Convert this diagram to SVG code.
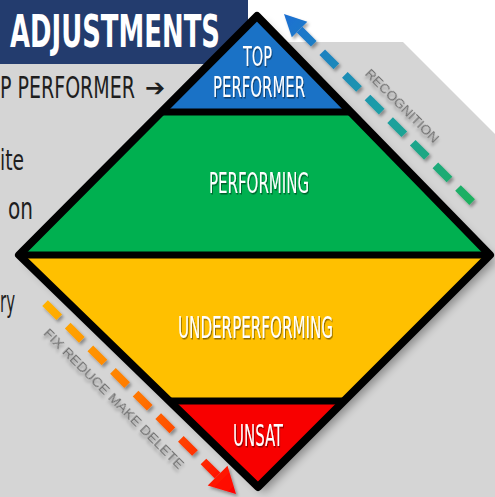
<svg xmlns="http://www.w3.org/2000/svg" width="495" height="497" viewBox="0 0 495 497">
  <defs>
    <style>
      .lbl { font-family: "DejaVu Sans Condensed", "DejaVu Sans", "Liberation Sans", sans-serif; fill: #ffffff; text-anchor: middle; }
      .side { font-family: "DejaVu Sans Condensed", "DejaVu Sans", "Liberation Sans", sans-serif; fill: #1e1e1e; }
      .diag { font-family: "Liberation Sans", "DejaVu Sans", sans-serif; font-size: 13px; fill: #707070; text-anchor: middle; }
      .edge { fill: none; stroke: #000; stroke-width: 8; stroke-linejoin: round; }
      .div { stroke: #000; stroke-width: 7; }
      .dash { fill: none; stroke-width: 8; stroke-dasharray: 20 12; }
    </style>
    <filter id="tshadow" x="-20%" y="-40%" width="140%" height="180%">
      <feDropShadow dx="1.5" dy="1.5" stdDeviation="0.7" flood-color="#000" flood-opacity="0.45"/>
    </filter>
    <filter id="soft" x="-20%" y="-20%" width="140%" height="140%">
      <feDropShadow dx="2" dy="2.5" stdDeviation="1.5" flood-color="#000" flood-opacity="0.35"/>
    </filter>
    <filter id="blur" x="-10%" y="-10%" width="120%" height="120%">
      <feGaussianBlur stdDeviation="5"/>
    </filter>
    <linearGradient id="gRec" gradientUnits="userSpaceOnUse" x1="284" y1="14" x2="477" y2="207">
      <stop offset="0" stop-color="#1f6fd2"/>
      <stop offset="0.5" stop-color="#1a9ea6"/>
      <stop offset="1" stop-color="#1db25a"/>
    </linearGradient>
    <linearGradient id="gFix" gradientUnits="userSpaceOnUse" x1="44" y1="302" x2="236" y2="494">
      <stop offset="0" stop-color="#ffb300"/>
      <stop offset="0.5" stop-color="#ff7400"/>
      <stop offset="1" stop-color="#ff0000"/>
    </linearGradient>
  </defs>

  <!-- background -->
  <rect x="0" y="0" width="495" height="497" fill="#ffffff"/>
  <polygon points="0,64 250,64 287,42 403,42 495,134 495,497 0,497" fill="#d5d5d5"/>

  <!-- banner -->
  <g id="banner">
    <rect x="0" y="0" width="248" height="64" fill="#233c6e"/>
    <text transform="translate(10,47) scale(0.7,1)" x="0" y="0" font-family="DejaVu Sans Condensed, DejaVu Sans, sans-serif" font-weight="bold" font-size="44" fill="#ffffff" textLength="300" lengthAdjust="spacingAndGlyphs">ADJUSTMENTS</text>
  </g>

  <!-- partially hidden side texts -->
  <g id="side-texts">
    <text class="side" transform="translate(0,98) scale(0.68,1)" x="0" y="0" font-size="30" textLength="198.5" lengthAdjust="spacingAndGlyphs">P PERFORMER</text>
    <text x="145" y="96" font-family="DejaVu Sans, sans-serif" font-weight="bold" font-size="24" fill="#1e1e1e">➔</text>
    <text class="side" transform="translate(0,170) scale(0.7,1)" x="0" y="0" font-size="28" textLength="34.3" lengthAdjust="spacingAndGlyphs">ite</text>
    <text class="side" transform="translate(8,219) scale(0.7,1)" x="0" y="0" font-size="30" textLength="35.7" lengthAdjust="spacingAndGlyphs">on</text>
    <text class="side" transform="translate(0,312) scale(0.7,1)" x="0" y="0" font-size="30" textLength="21.4" lengthAdjust="spacingAndGlyphs">ry</text>
  </g>

  <!-- diamond shadow -->
  <polygon points="263,22 496,261 264,493 25,261" fill="#000" opacity="0.35" filter="url(#blur)"/>

  <g id="top-performer">
    <polygon points="257,16 350.6,112 161.4,112" fill="#1a72c6"/>
    <text class="lbl" transform="translate(257.5,66) scale(0.6,1)" x="0" y="0" font-size="26" textLength="48.3" lengthAdjust="spacingAndGlyphs" filter="url(#tshadow)">TOP</text>
    <text class="lbl" transform="translate(259,97) scale(0.6,1)" x="0" y="0" font-size="28" textLength="153.3" lengthAdjust="spacingAndGlyphs" filter="url(#tshadow)">PERFORMER</text>
  </g>
  <g id="performing">
    <polygon points="161.4,112 350.6,112 490,255 19,255" fill="#00b050"/>
    <text class="lbl" transform="translate(259,193) scale(0.6,1)" x="0" y="0" font-size="28" textLength="166.7" lengthAdjust="spacingAndGlyphs" filter="url(#tshadow)">PERFORMING</text>
  </g>
  <g id="underperforming">
    <polygon points="19,255 490,255 344,401 169.4,401" fill="#ffc000"/>
    <text class="lbl" transform="translate(255.5,338) scale(0.6,1)" x="0" y="0" font-size="31" textLength="258.3" lengthAdjust="spacingAndGlyphs" filter="url(#tshadow)">UNDERPERFORMING</text>
  </g>
  <g id="unsat">
    <polygon points="169.4,401 344,401 258,487" fill="#f80000"/>
    <text class="lbl" transform="translate(258,446) scale(0.6,1)" x="0" y="0" font-size="31" textLength="83.3" lengthAdjust="spacingAndGlyphs" filter="url(#tshadow)">UNSAT</text>
  </g>

  <g id="outline">
    <line class="div" x1="161.4" y1="112" x2="350.6" y2="112"/>
    <line class="div" x1="19" y1="255" x2="490" y2="255"/>
    <line class="div" x1="169.4" y1="401" x2="344" y2="401"/>
    <polygon class="edge" points="257,16 490,255 258,487 19,255"/>
  </g>

  <g id="connectors">
    <g id="recognition" filter="url(#soft)">
      <path class="dash" stroke="url(#gRec)" d="M299.6,29.6 L477,207"/>
      <polygon points="284,14 307.3,21.8 291.8,37.3" fill="url(#gRec)"/>
    </g>
    <text class="diag" transform="translate(402.5,105.5) rotate(45)" dy="4.5" textLength="98" lengthAdjust="spacingAndGlyphs" filter="url(#soft)">RECOGNITION</text>
    <g id="fix" filter="url(#soft)">
      <path class="dash" stroke="url(#gFix)" d="M217.6,475.6 L44,302"/>
      <polygon points="236,494 207.7,485.5 227.5,465.7" fill="url(#gFix)"/>
    </g>
    <text class="diag" transform="translate(113.5,399) rotate(45)" dy="4.5" textLength="192" lengthAdjust="spacingAndGlyphs" filter="url(#soft)">FIX REDUCE MAKE DELETE</text>
  </g>
</svg>
